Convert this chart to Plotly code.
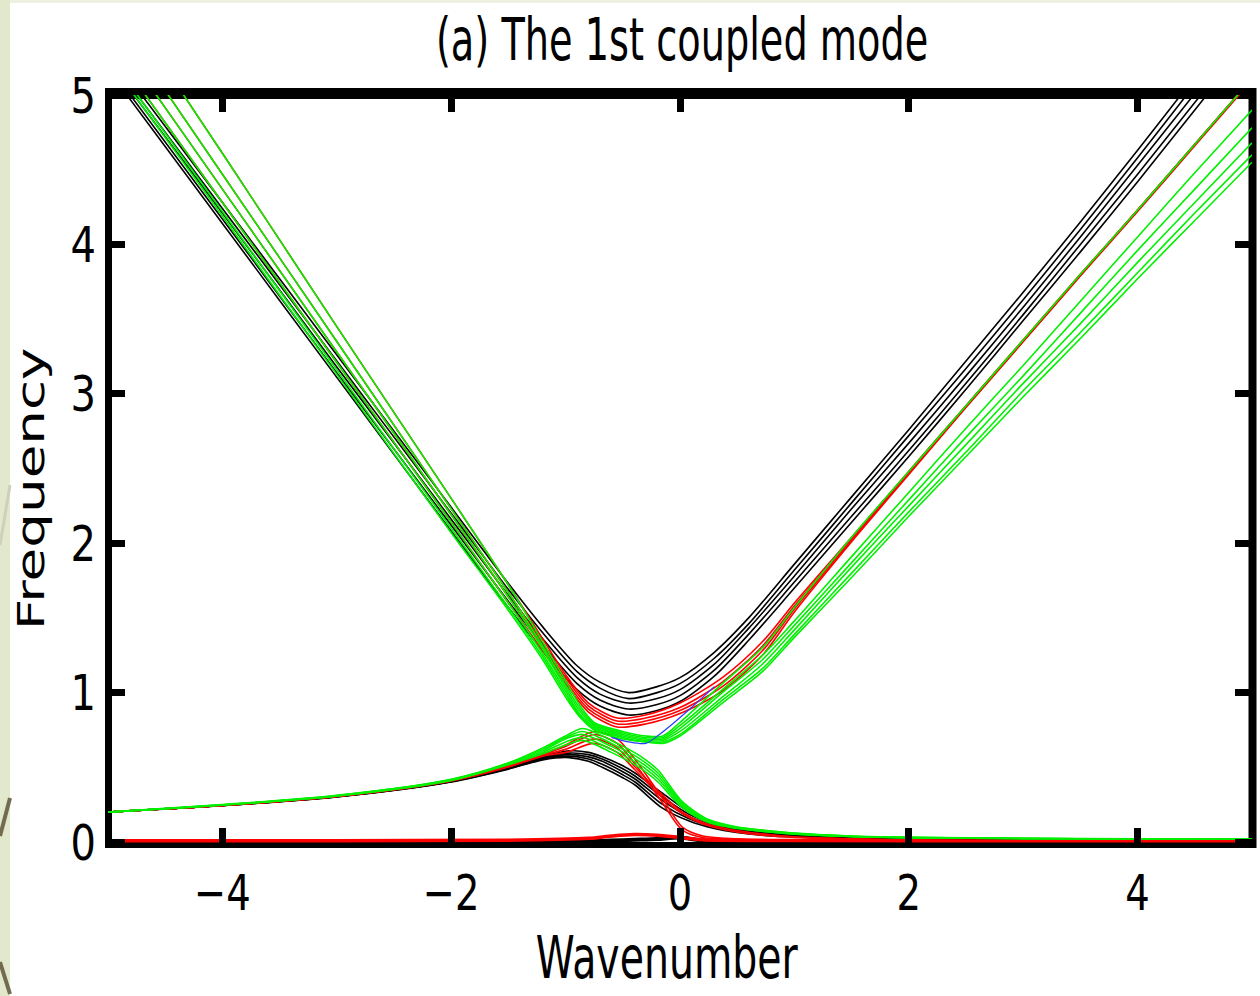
import plotly.graph_objects as go

# ---------------------------------------------------------------------------
# Dispersion curves (frequency vs. wavenumber) for the 1st coupled mode.
# Each colour is one family of parameter settings; every family has an upper
# branch (left-going line -> minimum -> right-going branch), a lower branch
# (slow rise on the left, peak near k = -0.9, decay to zero on the right)
# and a nearly flat low-frequency mode.
# ---------------------------------------------------------------------------

# ---- upper branch, black family -------------------------------------------
K_UP_BLACK = [-5.0, -4.0, -3.0, -2.0, -1.5, -1.2, -0.9, -0.7, -0.45, -0.2, 0.0,
              0.3, 0.6, 1.0, 1.5, 2.0, 2.5, 3.0, 3.5, 4.0, 4.5, 5.0]
W_UP_BLACK = [
    [5.30, 4.28, 3.26, 2.24, 1.73, 1.44, 1.18, 1.07, 1.00, 1.04, 1.10,
     1.27, 1.50, 1.86, 2.31, 2.76, 3.22, 3.68, 4.15, 4.63, 5.12, 5.60],
    [5.26, 4.24, 3.22, 2.20, 1.69, 1.40, 1.14, 1.03, 0.96, 1.00, 1.06,
     1.23, 1.46, 1.82, 2.27, 2.72, 3.17, 3.63, 4.10, 4.58, 5.07, 5.55],
    [5.23, 4.21, 3.18, 2.16, 1.65, 1.36, 1.10, 0.99, 0.93, 0.96, 1.02,
     1.19, 1.43, 1.78, 2.23, 2.67, 3.12, 3.58, 4.05, 4.53, 5.01, 5.50],
    [5.20, 4.17, 3.14, 2.12, 1.61, 1.32, 1.06, 0.95, 0.89, 0.92, 0.98,
     1.15, 1.39, 1.74, 2.18, 2.62, 3.07, 3.53, 4.00, 4.47, 4.95, 5.43],
    [5.17, 4.14, 3.11, 2.08, 1.57, 1.28, 1.02, 0.91, 0.85, 0.88, 0.94,
     1.11, 1.35, 1.70, 2.14, 2.58, 3.03, 3.49, 3.95, 4.42, 4.90, 5.38],
]

# ---- upper branch, red family ---------------------------------------------
K_UP_RED = [-5.0, -4.0, -3.0, -2.0, -1.5, -1.2, -1.0, -0.8, -0.55, -0.3, 0.0,
            0.37, 0.72, 1.0, 1.5, 2.0, 2.5, 3.0, 3.5, 4.0, 4.5, 5.0]
W_UP_RED = [
    [5.76, 4.61, 3.45, 2.30, 1.72, 1.36, 1.12, 0.93, 0.83, 0.85, 0.93,
     1.10, 1.34, 1.60, 2.04, 2.48, 2.92, 3.36, 3.80, 4.23, 4.67, 5.11],
    [5.59, 4.47, 3.35, 2.23, 1.67, 1.33, 1.10, 0.91, 0.81, 0.83, 0.90,
     1.07, 1.31, 1.58, 2.03, 2.48, 2.92, 3.36, 3.80, 4.23, 4.67, 5.11],
    [5.46, 4.37, 3.28, 2.19, 1.64, 1.31, 1.08, 0.89, 0.79, 0.81, 0.88,
     1.04, 1.28, 1.56, 2.02, 2.47, 2.91, 3.35, 3.79, 4.23, 4.67, 5.11],
    [5.35, 4.28, 3.21, 2.14, 1.60, 1.28, 1.06, 0.87, 0.77, 0.79, 0.86,
     1.01, 1.25, 1.54, 2.01, 2.46, 2.91, 3.35, 3.79, 4.22, 4.66, 5.10],
]

# ---- upper branch, green family -------------------------------------------
K_UP_GREEN = [-5.0, -4.0, -3.0, -2.0, -1.5, -1.2, -1.0, -0.88, -0.75, -0.5, -0.3,
              -0.15, 0.0, 0.37, 0.72, 1.0, 1.5, 2.0, 2.5, 3.0, 3.5, 4.0, 4.5, 5.0]
W_UP_GREEN = [
    [5.76, 4.61, 3.45, 2.30, 1.72, 1.34, 1.08, 0.92, 0.80, 0.74, 0.71,
     0.71, 0.80, 1.06, 1.30, 1.57, 2.04, 2.48, 2.92, 3.36, 3.80, 4.23, 4.67, 5.11],
    [5.59, 4.47, 3.35, 2.23, 1.67, 1.31, 1.05, 0.90, 0.79, 0.73, 0.70,
     0.70, 0.78, 1.02, 1.25, 1.48, 1.91, 2.34, 2.77, 3.19, 3.62, 4.05, 4.48, 4.90],
    [5.46, 4.37, 3.28, 2.19, 1.64, 1.29, 1.03, 0.88, 0.78, 0.72, 0.69,
     0.69, 0.76, 1.00, 1.22, 1.45, 1.87, 2.29, 2.71, 3.12, 3.54, 3.96, 4.37, 4.78],
    [5.35, 4.28, 3.21, 2.14, 1.60, 1.26, 1.01, 0.86, 0.77, 0.71, 0.68,
     0.68, 0.74, 0.97, 1.19, 1.42, 1.84, 2.25, 2.66, 3.07, 3.47, 3.88, 4.28, 4.68],
    [5.27, 4.22, 3.16, 2.10, 1.57, 1.24, 0.99, 0.85, 0.76, 0.70, 0.67,
     0.67, 0.72, 0.95, 1.16, 1.39, 1.80, 2.21, 2.61, 3.02, 3.41, 3.81, 4.21, 4.60],
    [5.24, 4.19, 3.13, 2.07, 1.55, 1.22, 0.97, 0.84, 0.75, 0.69, 0.67,
     0.66, 0.71, 0.93, 1.14, 1.37, 1.77, 2.18, 2.58, 2.98, 3.37, 3.77, 4.16, 4.55],
]

# ---- lower branch, black family -------------------------------------------
K_LOW_BLACK = [-5.0, -4.0, -3.0, -2.0, -1.5, -1.2, -0.97, -0.8, -0.68, -0.5, -0.39,
               -0.16, 0.08, 0.3, 0.48, 0.8, 1.2, 1.6, 2.0, 3.0, 4.0, 5.0]
W_LOW_BLACK = [
    [0.200, 0.245, 0.305, 0.410, 0.500, 0.570, 0.610, 0.600, 0.570, 0.510, 0.460,
     0.330, 0.200, 0.130, 0.095, 0.060, 0.040, 0.030, 0.025, 0.020, 0.017, 0.015],
    [0.200, 0.245, 0.305, 0.408, 0.497, 0.565, 0.595, 0.585, 0.555, 0.490, 0.440,
     0.305, 0.185, 0.120, 0.088, 0.055, 0.037, 0.028, 0.023, 0.018, 0.016, 0.014],
    [0.200, 0.244, 0.304, 0.406, 0.494, 0.560, 0.585, 0.570, 0.540, 0.470, 0.420,
     0.280, 0.170, 0.110, 0.080, 0.050, 0.034, 0.026, 0.021, 0.017, 0.015, 0.013],
    [0.200, 0.244, 0.303, 0.404, 0.491, 0.555, 0.575, 0.555, 0.520, 0.450, 0.400,
     0.255, 0.155, 0.100, 0.072, 0.045, 0.031, 0.024, 0.019, 0.016, 0.014, 0.012],
    [0.200, 0.243, 0.302, 0.402, 0.488, 0.550, 0.565, 0.540, 0.500, 0.430, 0.380,
     0.230, 0.140, 0.090, 0.065, 0.040, 0.028, 0.022, 0.018, 0.015, 0.013, 0.011],
]

# ---- lower branch, red family ---------------------------------------------
K_LOW_RED = [-5.0, -4.0, -3.0, -2.0, -1.5, -1.2, -1.0, -0.75, -0.55, -0.39, -0.16,
             0.02, 0.2, 0.4, 0.6, 1.0, 2.0, 5.0]
W_LOW_RED = [
    [0.200, 0.245, 0.306, 0.412, 0.510, 0.590, 0.650, 0.740, 0.690, 0.550, 0.300,
     0.100, 0.040, 0.025, 0.018, 0.012, 0.008, 0.006],
    [0.200, 0.245, 0.306, 0.411, 0.507, 0.585, 0.640, 0.720, 0.660, 0.520, 0.270,
     0.080, 0.030, 0.020, 0.015, 0.010, 0.007, 0.005],
    [0.200, 0.245, 0.305, 0.410, 0.505, 0.580, 0.620, 0.690, 0.630, 0.500, 0.320,
     0.200, 0.130, 0.090, 0.065, 0.035, 0.015, 0.008],
    [0.200, 0.244, 0.305, 0.409, 0.502, 0.575, 0.600, 0.660, 0.600, 0.480, 0.300,
     0.190, 0.120, 0.080, 0.055, 0.030, 0.013, 0.007],
]

# ---- lower branch, green family -------------------------------------------
K_LOW_GREEN = [-5.0, -4.0, -3.0, -2.0, -1.5, -1.2, -1.0, -0.85, -0.6, -0.4, -0.3,
               -0.19, 0.02, 0.25, 0.5, 0.72, 1.0, 1.5, 2.0, 3.0, 4.0, 5.0]
W_LOW_GREEN = [
    [0.200, 0.250, 0.312, 0.420, 0.530, 0.630, 0.710, 0.760, 0.680, 0.600, 0.550,
     0.480, 0.270, 0.150, 0.100, 0.080, 0.060, 0.040, 0.032, 0.025, 0.022, 0.020],
    [0.200, 0.249, 0.311, 0.418, 0.527, 0.620, 0.700, 0.740, 0.660, 0.580, 0.530,
     0.460, 0.260, 0.145, 0.098, 0.078, 0.058, 0.039, 0.031, 0.024, 0.021, 0.020],
    [0.200, 0.248, 0.310, 0.416, 0.524, 0.610, 0.690, 0.720, 0.640, 0.560, 0.510,
     0.440, 0.250, 0.140, 0.095, 0.075, 0.056, 0.038, 0.030, 0.024, 0.021, 0.019],
    [0.200, 0.248, 0.309, 0.414, 0.520, 0.600, 0.670, 0.700, 0.620, 0.540, 0.490,
     0.420, 0.240, 0.135, 0.092, 0.072, 0.054, 0.037, 0.029, 0.023, 0.020, 0.019],
    [0.200, 0.247, 0.308, 0.412, 0.517, 0.590, 0.650, 0.680, 0.600, 0.520, 0.470,
     0.400, 0.230, 0.130, 0.090, 0.070, 0.052, 0.036, 0.028, 0.023, 0.020, 0.018],
]

# ---- short blue segment inside the crossing region ------------------------
K_BLUE = [-0.6, -0.45, -0.3, -0.18, -0.05, 0.1, 0.3]
W_BLUE = [0.70, 0.67, 0.66, 0.72, 0.80, 0.90, 1.04]

# ---- nearly flat low-frequency mode ---------------------------------------
K_FLAT = [-5.0, -3.0, -1.5, -0.8, -0.6, -0.4, -0.2, 0.0, 0.2, 1.0, 3.0, 5.0]
W_FLAT_BLACK = [0.0, 0.0, 0.0, 0.005, 0.010, 0.015, 0.020, 0.030, 0.010, 0.0, 0.0, 0.0]
W_FLAT_RED = [0.008, 0.009, 0.012, 0.025, 0.040, 0.050, 0.045, 0.030, 0.015, 0.010, 0.008, 0.008]

# ---- axes ------------------------------------------------------------------
X_TICKS = [-4, -2, 0, 2, 4]
Y_TICKS = [0, 1, 2, 3, 4, 5]
X_RANGE = [-5, 5]
Y_RANGE = [-0.02, 5.0]

BLACK = "#000000"
RED = "#ff0000"
GREEN = "#00f000"
BLUE = "#2a3cff"

FONT = "DejaVu Sans, Verdana, sans-serif"

W, H = 1260, 996
PLOT_L, PLOT_R, PLOT_T, PLOT_B = 108, 1252, 95, 845


def px_x(px):
    return (px - PLOT_L) / (PLOT_R - PLOT_L)


def px_y(py):
    return (PLOT_B - py) / (PLOT_B - PLOT_T)


fig = go.Figure()


def add_curve(k, w, color, width=1.6):
    fig.add_trace(go.Scatter(
        x=k, y=w, mode="lines",
        line=dict(color=color, width=width, shape="spline", smoothing=0.8),
        hoverinfo="skip", showlegend=False,
    ))


# near-zero mode first so the other branches sit on top of it
add_curve(K_FLAT, W_FLAT_BLACK, BLACK, 4)
add_curve(K_FLAT, W_FLAT_RED, RED, 3.5)

for w in W_UP_BLACK:
    add_curve(K_UP_BLACK, w, BLACK)
for w in W_LOW_BLACK:
    add_curve(K_LOW_BLACK, w, BLACK)
for w in W_UP_RED:
    add_curve(K_UP_RED, w, RED)
for w in W_LOW_RED:
    add_curve(K_LOW_RED, w, RED)
for w in W_UP_GREEN:
    add_curve(K_UP_GREEN, w, GREEN)
for w in W_LOW_GREEN:
    add_curve(K_LOW_GREEN, w, GREEN)
add_curve(K_BLUE, W_BLUE, BLUE, 1.2)

# slide background: pale strip on the left and along the top edge
shapes = [
    dict(type="rect", xref="paper", yref="paper", layer="below",
         x0=px_x(0), x1=px_x(10), y0=px_y(H), y1=px_y(0),
         fillcolor="#e2e8cb", line=dict(width=0)),
    dict(type="rect", xref="paper", yref="paper", layer="below",
         x0=px_x(10), x1=px_x(W), y0=px_y(3), y1=px_y(0),
         fillcolor="#eef1e0", line=dict(width=0)),
    dict(type="line", xref="paper", yref="paper", layer="below",
         x0=px_x(0), y0=px_y(545), x1=px_x(10), y1=px_y(485),
         line=dict(color="#cfd0bb", width=3)),
    dict(type="line", xref="paper", yref="paper", layer="below",
         x0=px_x(0), y0=px_y(836), x1=px_x(10), y1=px_y(798),
         line=dict(color="#726b4f", width=4)),
    dict(type="line", xref="paper", yref="paper", layer="below",
         x0=px_x(0), y0=px_y(962), x1=px_x(10), y1=px_y(994),
         line=dict(color="#726b4f", width=4)),
]

# heavy plot frame
frame = [
    (PLOT_L - 3, 93.5, PLOT_R + 4, 93.5, 11),   # top
    (PLOT_L - 3, 845, PLOT_R + 4, 845, 6),      # bottom
    (108.5, 88, 108.5, 848, 7),                 # left
    (1252.5, 88, 1252.5, 848, 8),               # right
]
for x0, y0, x1, y1, lw in frame:
    shapes.append(dict(type="line", xref="paper", yref="paper", layer="below",
                       x0=px_x(x0), y0=px_y(y0), x1=px_x(x1), y1=px_y(y1),
                       line=dict(color=BLACK, width=lw)))

annotations = [
    dict(text="(a) The 1st coupled mode", xref="paper", yref="paper",
         x=px_x(682), y=px_y(40), xanchor="center", yanchor="middle",
         showarrow=False, font=dict(family=FONT, size=58, color=BLACK)),
    dict(text="Wavenumber", xref="paper", yref="paper",
         x=px_x(667), y=px_y(958), xanchor="center", yanchor="middle",
         showarrow=False, font=dict(family=FONT, size=58, color=BLACK)),
    dict(text="Frequency", xref="paper", yref="paper",
         x=px_x(31), y=px_y(489), xanchor="center", yanchor="middle",
         textangle=-90, showarrow=False,
         font=dict(family=FONT, size=38, color=BLACK)),
]

axis_common = dict(
    showgrid=False, zeroline=False, showline=False,
    ticks="inside", ticklen=17, tickwidth=7, tickcolor=BLACK,
    mirror="ticks", layer="above traces",
    tickfont=dict(family=FONT, size=50, color=BLACK),
)

fig.update_layout(
    width=W, height=H,
    margin=dict(l=PLOT_L, r=W - PLOT_R, t=PLOT_T, b=H - PLOT_B),
    paper_bgcolor="#ffffff", plot_bgcolor="#ffffff",
    xaxis=dict(range=X_RANGE, tickvals=X_TICKS, ticklabelstandoff=14, **axis_common),
    yaxis=dict(range=Y_RANGE, tickvals=Y_TICKS, ticklabelstandoff=11, **axis_common),
    shapes=shapes, annotations=annotations,
)

# The lettering of this figure is tall and narrow; squeeze each label along
# its reading direction about its anchor point (the vertical axis title is
# stretched instead, since it reads bottom-to-top).
TEXT_SCALE_JS = """
var gd = document.getElementById('{plot_id}');
var NS = 'http://www.w3.org/2000/svg';
function squeeze(el, s) {
  var ax = parseFloat(el.getAttribute('x') || 0);
  var t = el.transform.baseVal.consolidate();
  if (t) { ax += t.matrix.e; }
  var g = document.createElementNS(NS, 'g');
  g.setAttribute('transform',
    'translate(' + ax + ',0) scale(' + s + ',1) translate(' + (-ax) + ',0)');
  el.parentNode.insertBefore(g, el);
  g.appendChild(el);
}
gd.querySelectorAll('.xtick text').forEach(function (el) { squeeze(el, 0.77); });
gd.querySelectorAll('.ytick text').forEach(function (el) { squeeze(el, 0.8); });
gd.querySelectorAll('.annotation-text').forEach(function (el) {
  var txt = el.textContent;
  if (txt === 'Frequency') { squeeze(el, 1.44); }
  else if (txt === 'Wavenumber') { squeeze(el, 0.68); }
  else { squeeze(el, 0.66); }
});
"""

fig.write_html("out.html", post_script=TEXT_SCALE_JS)
